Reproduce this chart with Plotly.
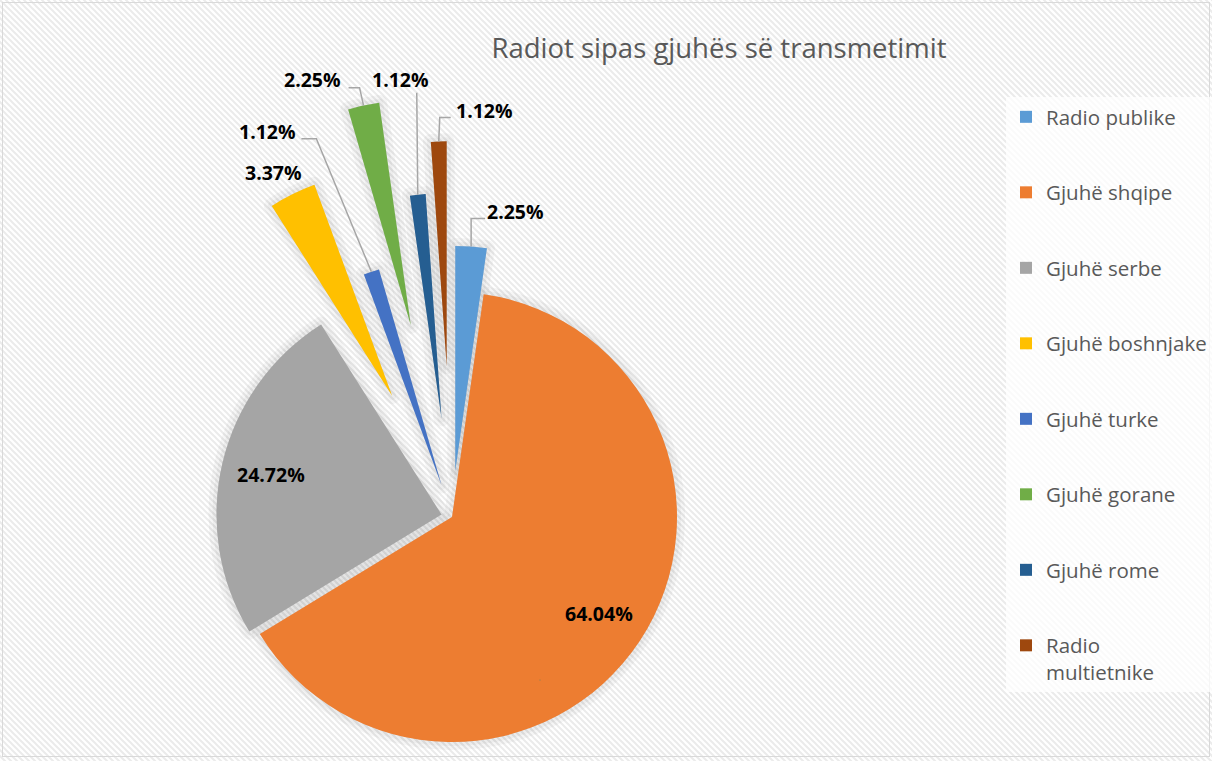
import math
import base64
import plotly.graph_objects as go

# ---------------- data ----------------
categories = ["Radio publike", "Gjuhë shqipe", "Gjuhë serbe", "Gjuhë boshnjake",
              "Gjuhë turke", "Gjuhë gorane", "Gjuhë rome", "Radio multietnike"]
counts = [2, 57, 22, 3, 1, 2, 1, 1]
legend_names = ["Radio publike", "Gjuhë shqipe", "Gjuhë serbe", "Gjuhë boshnjake",
                "Gjuhë turke", "Gjuhë gorane", "Gjuhë rome", "Radio<br>multietnike"]
title_text = "Radiot sipas gjuhës së transmetimit"

# ---------------- style ----------------
colors = ["#5B9BD5", "#ED7D31", "#A5A5A5", "#FFC000",
          "#4472C4", "#70AD47", "#255E91", "#9E480E"]
explode = [0.205, 0.0, 0.048, 0.60, 0.147, 0.87, 0.44, 0.67]   # fraction of radius
inside = [False, True, True, False, False, False, False, False]
# label offsets (px) from the slice's outer mid point, and leader-line elbows
label_off = {0: (44, -35), 3: (-19, -22), 4: (-104, -140), 5: (-51, -26),
             6: (-17, -115), 7: (46, -31)}
leaders = {0: [(0, -28), (14, -28)], 4: [(-55, -133), (-70, -133)],
           5: [(-4, -18), (-15, -18)], 6: [(-1, -102)], 7: [(1, -24), (12, -24)]}

W, H = 1212, 761
CX, CY, R = 452, 517, 225
FONT = "Open Sans"
TXT = "#595959"
LEG_SIZE = 20.5
LEG_PITCH = 75.5     # px between legend entries

total = sum(counts)
pct_text = [f"{v / total * 100:.2f}%" for v in counts]


def px(x, y):
    return x / W, 1 - y / H


fig = go.Figure()

# slice geometry
cum = 0
geo = []
for i, v in enumerate(counts):
    a0 = cum / total * 360
    a1 = (cum + v) / total * 360
    cum += v
    mid = math.radians((a0 + a1) / 2)
    d = explode[i] * R
    cx = CX + d * math.sin(mid)
    cy = CY - d * math.cos(mid)
    geo.append((cx, cy, mid))


def dom(cx, cy, r):
    return dict(x=[(cx - r) / W, (cx + r) / W], y=[1 - (cy + r) / H, 1 - (cy - r) / H])


def one_colored(i, col):
    return [col if j == i else "rgba(0,0,0,0)" for j in range(len(counts))]


# shadow layers
for i in range(len(counts)):
    cx, cy, mid = geo[i]
    for w in (16, 8):
        fig.add_trace(go.Pie(
            values=counts, labels=categories, sort=False, direction="clockwise",
            marker=dict(colors=one_colored(i, "rgba(0,0,0,0.035)"),
                        line=dict(color=one_colored(i, "rgba(0,0,0,0.035)"),
                                  width=[w if j == i else 0 for j in range(len(counts))])),
            textinfo="none", hoverinfo="skip", showlegend=False,
            domain=dom(cx, cy, R)))

# slices
for i in range(len(counts)):
    cx, cy, mid = geo[i]
    fig.add_trace(go.Pie(
        values=counts, labels=categories, sort=False, direction="clockwise",
        marker=dict(colors=one_colored(i, colors[i]), line=dict(width=0)),
        textinfo="none", hovertemplate="%{label}: %{value}<extra></extra>",
        showlegend=False, domain=dom(cx, cy, R)))

# legend entries: one tiny single-slice pie per category (hidden inside the orange slice),
# each in its own legend group so the entries can be spaced like the reference
for i, n in enumerate(legend_names):
    fig.add_trace(go.Pie(
        values=[counts[i]], labels=[n], sort=False,
        marker=dict(colors=[colors[i]], line=dict(width=0)),
        textinfo="none", hoverinfo="skip", showlegend=True,
        legendgroup=f"g{i}", domain=dom(540, 680, 0.2)))

# labels
annotations = []
shapes = []
for i in range(len(counts)):
    cx, cy, mid = geo[i]
    if inside[i]:
        lx = cx + 0.78 * R * math.sin(mid)
        ly = cy - 0.78 * R * math.cos(mid)
    else:
        ax = cx + R * math.sin(mid)
        ay = cy - R * math.cos(mid)
        lx = ax + label_off[i][0]
        ly = ay + label_off[i][1]
        if i in leaders:
            pts = [(ax, ay)] + [(ax + dx, ay + dy) for dx, dy in leaders[i]]
            path = "M " + " L ".join(f"{px(x, y)[0]:.5f},{px(x, y)[1]:.5f}" for x, y in pts)
            shapes.append(dict(type="path", xref="paper", yref="paper", path=path,
                               line=dict(color="#A6A6A6", width=1.5)))
    x, y = px(lx, ly)
    annotations.append(dict(x=x, y=y, xref="paper", yref="paper", text=pct_text[i],
                            showarrow=False, xanchor="center", yanchor="middle",
                            font=dict(family=FONT, size=19.5, color="black", weight="bold")))

# background: diagonal hatch + thin border
svg = f'''<svg xmlns="http://www.w3.org/2000/svg" width="{W}" height="{H}">
<defs><pattern id="p" width="6" height="6" patternUnits="userSpaceOnUse">
<path d="M-1,-1 L7,7 M-1,5 L1,7 M5,-1 L7,1" stroke="#ebebeb" stroke-width="2"/></pattern></defs>
<rect width="100%" height="100%" fill="white"/>
<rect width="100%" height="100%" fill="url(#p)"/>
<rect x="2.5" y="2.5" width="{W - 5}" height="{H - 7}" fill="none" stroke="#d9d9d9" stroke-width="1"/>
</svg>'''
src = "data:image/svg+xml;base64," + base64.b64encode(svg.encode()).decode()

item_h = LEG_SIZE * 1.3 + 3
fig.update_layout(
    width=W, height=H,
    margin=dict(l=0, r=0, t=0, b=0, pad=0, autoexpand=False),
    paper_bgcolor="white",
    images=[dict(source=src, xref="paper", yref="paper", x=0, y=1, sizex=1, sizey=1,
                 xanchor="left", yanchor="top", sizing="stretch", layer="below")],
    title=dict(text=title_text, x=719 / W, xanchor="center", y=1 - 48 / H, yanchor="middle",
               font=dict(family=FONT, size=27.5, color=TXT)),
    legend=dict(x=1006 / W, y=1 - 97 / H, xanchor="left", yanchor="top",
                bgcolor="rgba(255,255,255,0.75)", borderwidth=0, valign="top",
                traceorder="grouped", tracegroupgap=LEG_PITCH - item_h,
                font=dict(family=FONT, size=LEG_SIZE, color=TXT)),
    annotations=annotations, shapes=shapes,
)

fig.write_html("out.html", config={"displayModeBar": False},
               post_script="document.body.style.margin='0';")
